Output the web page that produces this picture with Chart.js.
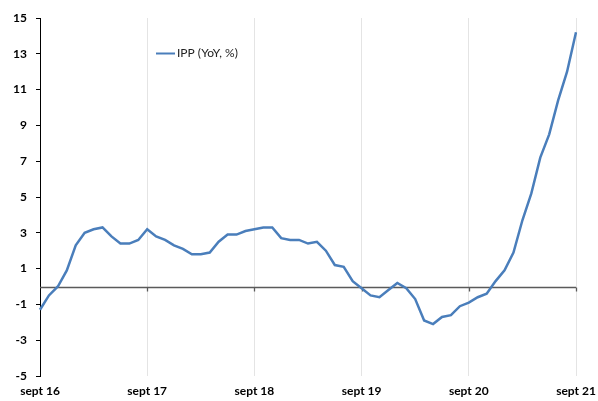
<!DOCTYPE html>
<html>
<head>
<meta charset="utf-8">
<script src="https://cdn.jsdelivr.net/npm/chart.js@4.4.0/dist/chart.umd.min.js"></script>
<style>
  body { margin: 0; background: #fff; }
  #wrap { width: 598px; height: 401px; }
</style>
</head>
<body>
<div id="wrap"><canvas id="chart" width="598" height="401"></canvas></div>
<script>
// monthly labels, sept 16 -> sept 21
const moisNoms = ["janv", "févr", "mars", "avr", "mai", "juin", "juil", "août", "sept", "oct", "nov", "déc"];
const mois = [];
for (let i = 0; i < 61; i++) {
  const m = (8 + i) % 12;
  const a = 16 + Math.floor((8 + i) / 12);
  mois.push(moisNoms[m] + " " + a);
}

// IPP glissement annuel (%)
const ipp = [
  -1.3, -0.5, 0.0, 0.9,
  2.3, 3.0, 3.2, 3.3, 2.8, 2.4, 2.4, 2.6, 3.2, 2.8, 2.6, 2.3,
  2.1, 1.8, 1.8, 1.9, 2.5, 2.9, 2.9, 3.1, 3.2, 3.3, 3.3, 2.7,
  2.6, 2.6, 2.4, 2.5, 2.0, 1.2, 1.1, 0.3, -0.1, -0.5, -0.6, -0.2,
  0.2, -0.1, -0.7, -1.9, -2.1, -1.7, -1.6, -1.1, -0.9, -0.6, -0.4, 0.3,
  0.9, 1.9, 3.7, 5.2, 7.2, 8.5, 10.4, 12.0, 14.2
];

const yTicks = [-5, -3, -1, 1, 3, 5, 7, 9, 11, 13, 15];

const bleu = "#4a7ebb";

// ligne du zéro + petites graduations annuelles, et légende flottante
const extras = {
  id: "extras",
  beforeDatasetsDraw(chart) {
    const { ctx, scales: { x, y }, chartArea } = chart;
    const y0 = Math.round(y.getPixelForValue(0)) + 0.5;
    ctx.save();
    ctx.strokeStyle = "#5a5a5a";
    ctx.lineWidth = 1.3;
    ctx.beginPath();
    ctx.moveTo(chartArea.left, y0);
    ctx.lineTo(chartArea.right, y0);
    for (let i = 12; i < mois.length; i += 12) {
      const px = Math.round(x.getPixelForValue(i)) + 0.5;
      ctx.moveTo(px, y0);
      ctx.lineTo(px, y0 + 4);
    }
    ctx.stroke();
    ctx.restore();
  },
  afterDraw(chart) {
    const { ctx } = chart;
    ctx.save();
    ctx.strokeStyle = bleu;
    ctx.lineWidth = 2;
    ctx.beginPath();
    ctx.moveTo(156, 53.5);
    ctx.lineTo(175, 53.5);
    ctx.stroke();
    ctx.fillStyle = "#222";
    ctx.font = "12px Lato";
    ctx.textBaseline = "middle";
    ctx.fillText(chart.data.datasets[0].label, 177, 53);
    ctx.restore();
  }
};

new Chart(document.getElementById("chart"), {
  type: "line",
  data: {
    labels: mois,
    datasets: [
      {
        label: "IPP (YoY, %)",
        data: ipp,
        borderColor: bleu,
        borderWidth: 2.5,
        pointRadius: 0,
        tension: 0,
        fill: false
      }
    ]
  },
  options: {
    responsive: false,
    animation: false,
    layout: { padding: { left: 0, right: 22, top: 18, bottom: 0 } },
    plugins: {
      legend: { display: false },
      tooltip: { enabled: false }
    },
    scales: {
      x: {
        type: "category",
        offset: false,
        border: { display: false },
        grid: {
          drawTicks: false,
          lineWidth: 1,
          color: ctx => (ctx.index % 12 === 0 ? "#e4e4e4" : "rgba(0,0,0,0)")
        },
        ticks: {
          autoSkip: false,
          maxRotation: 0,
          padding: 8,
          color: "#000",
          font: { family: "Lato", size: 12, weight: "bold" },
          callback: (v, i) => (i % 12 === 0 ? "sept " + mois[i].split(" ")[1] : "")
        },
        afterFit: s => { s.height = 25; s.paddingLeft = 0; s.paddingRight = 0; }
      },
      y: {
        min: -5,
        max: 15,
        afterBuildTicks: s => { s.ticks = yTicks.map(v => ({ value: v })); },
        border: { display: true, color: "#000", width: 1 },
        grid: {
          drawOnChartArea: false,
          drawTicks: true,
          tickLength: 4,
          tickColor: "#000"
        },
        ticks: {
          padding: 9,
          color: "#000",
          font: { family: "Lato", size: 12, weight: "bold" }
        },
        afterFit: s => { s.width = 40; }
      }
    }
  },
  plugins: [extras]
});
</script>
</body>
</html>
